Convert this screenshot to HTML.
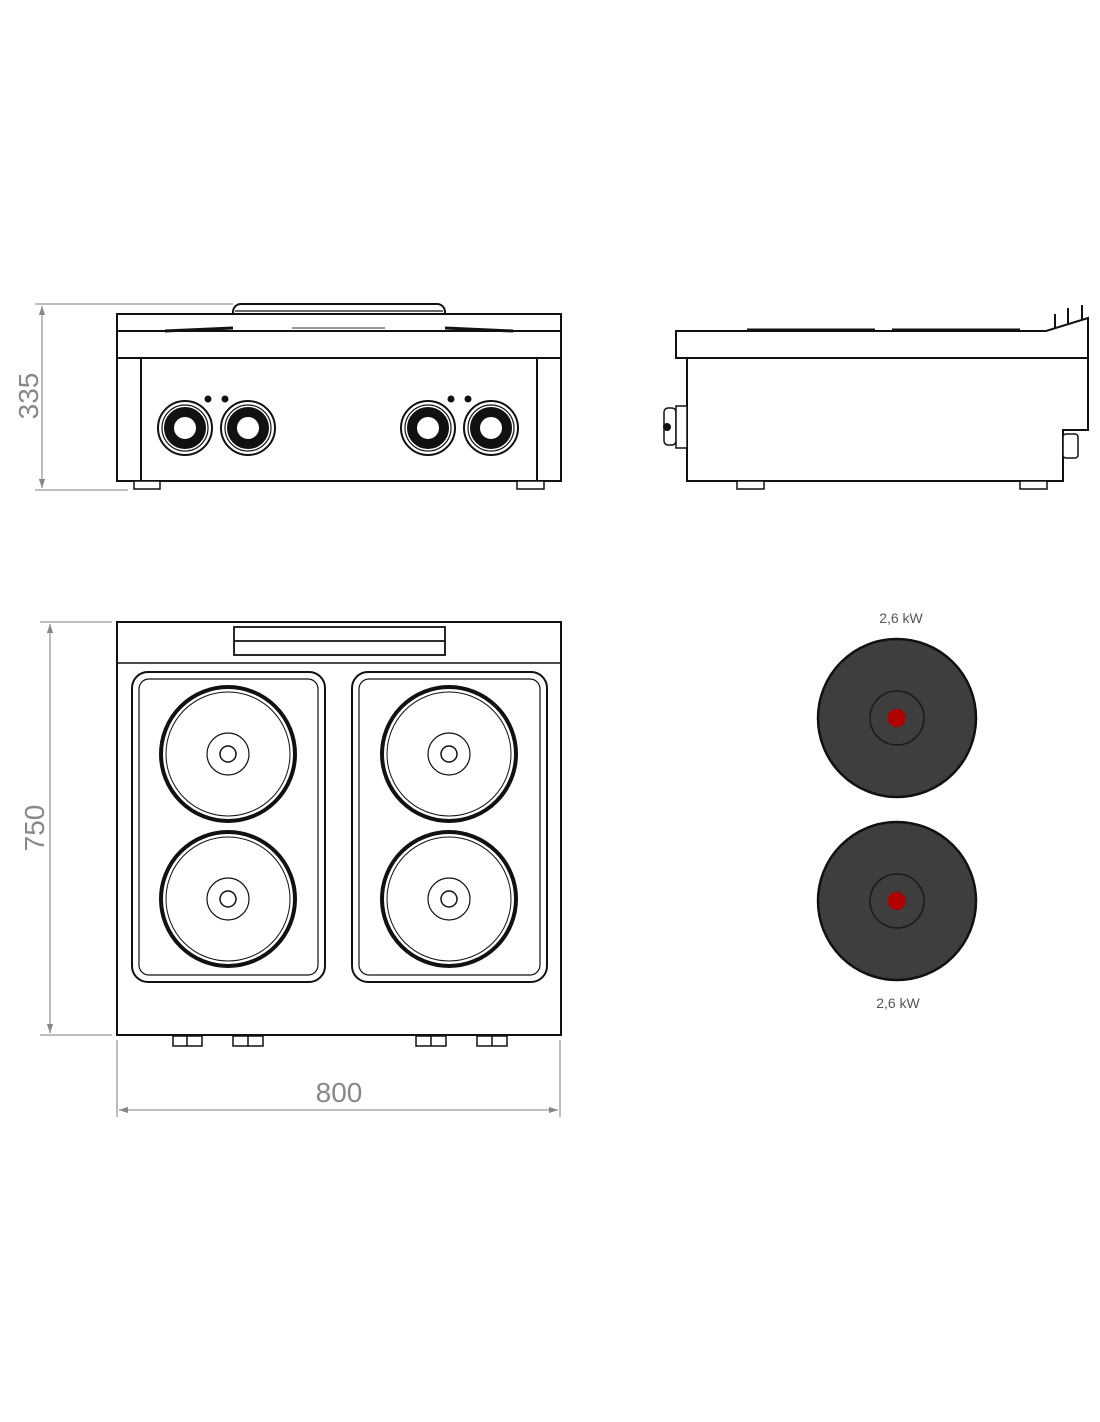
<!DOCTYPE html>
<html><head><meta charset="utf-8"><style>html,body{margin:0;padding:0;background:#fff}svg{display:block}</style></head>
<body>
<svg width="1100" height="1422" viewBox="0 0 1100 1422" xmlns="http://www.w3.org/2000/svg" font-family="Liberation Sans, sans-serif">
<defs>
<marker id="ar" viewBox="0 0 10 10" refX="10" refY="5" markerWidth="16" markerHeight="9" orient="auto-start-reverse" markerUnits="userSpaceOnUse"><path d="M0,1.5 L10,5 L0,8.5 z" fill="#888"/></marker>
</defs>
<g stroke="#999" stroke-width="1.3" fill="none">
<line x1="35" y1="304" x2="233" y2="304"/>
<line x1="35" y1="490" x2="128" y2="490"/>
<line x1="42" y1="306" x2="42" y2="488" marker-start="url(#ar)" marker-end="url(#ar)"/>
<line x1="40" y1="622" x2="112" y2="622"/>
<line x1="40" y1="1035" x2="112" y2="1035"/>
<line x1="50" y1="624" x2="50" y2="1033" marker-start="url(#ar)" marker-end="url(#ar)"/>
<line x1="117" y1="1040" x2="117" y2="1117"/>
<line x1="560" y1="1040" x2="560" y2="1117"/>
<line x1="119" y1="1110" x2="558" y2="1110" marker-start="url(#ar)" marker-end="url(#ar)"/>
</g>
<text x="0" y="0" transform="translate(38,396) rotate(-90)" text-anchor="middle" font-size="28" fill="#888">335</text>
<text x="0" y="0" transform="translate(44,828) rotate(-90)" text-anchor="middle" font-size="28" fill="#888">750</text>
<text x="339" y="1102" text-anchor="middle" font-size="28" fill="#888">800</text>

<g stroke="#111" stroke-width="2" fill="#fff">
<rect x="233" y="304" width="212" height="27" rx="8"/>
<line x1="235" y1="311" x2="443" y2="311" stroke-width="1.3"/>
<rect x="117" y="314" width="444" height="44"/>
<line x1="117" y1="331" x2="561" y2="331"/>
<rect x="117" y="358" width="444" height="123"/>
<line x1="141" y1="358" x2="141" y2="481"/>
<line x1="537" y1="358" x2="537" y2="481"/>
<rect x="134" y="481" width="26" height="8" stroke-width="1.5"/>
<rect x="517" y="481" width="27" height="8" stroke-width="1.5"/>
</g>
<path d="M165,331 L233,328 M445,328 L513,331" stroke="#111" stroke-width="3"/>
<line x1="292" y1="328" x2="385" y2="328" stroke="#999" stroke-width="2"/>
<g>
<circle cx="185" cy="428" r="27" fill="#fff" stroke="#111" stroke-width="2"/>
<circle cx="185" cy="428" r="23" fill="none" stroke="#111" stroke-width="1.2"/>
<circle cx="185" cy="428" r="16" fill="none" stroke="#111" stroke-width="10"/>
<circle cx="248" cy="428" r="27" fill="#fff" stroke="#111" stroke-width="2"/>
<circle cx="248" cy="428" r="23" fill="none" stroke="#111" stroke-width="1.2"/>
<circle cx="248" cy="428" r="16" fill="none" stroke="#111" stroke-width="10"/>
<circle cx="428" cy="428" r="27" fill="#fff" stroke="#111" stroke-width="2"/>
<circle cx="428" cy="428" r="23" fill="none" stroke="#111" stroke-width="1.2"/>
<circle cx="428" cy="428" r="16" fill="none" stroke="#111" stroke-width="10"/>
<circle cx="491" cy="428" r="27" fill="#fff" stroke="#111" stroke-width="2"/>
<circle cx="491" cy="428" r="23" fill="none" stroke="#111" stroke-width="1.2"/>
<circle cx="491" cy="428" r="16" fill="none" stroke="#111" stroke-width="10"/>
<circle cx="208" cy="399" r="3.5" fill="#111"/><circle cx="225" cy="399" r="3.5" fill="#111"/>
<circle cx="451" cy="399" r="3.5" fill="#111"/><circle cx="468" cy="399" r="3.5" fill="#111"/>
</g>

<g stroke="#111" stroke-width="2" fill="#fff">
<path d="M676,331 L1046,331 L1088,318 L1088,430 L1063,430 L1063,481 L687,481 L687,358 L676,358 Z"/>
<line x1="676" y1="358" x2="1088" y2="358"/>
<path d="M1055,328 L1055,314 M1068,324 L1068,308 M1082,320 L1082,305" />
<rect x="737" y="481" width="27" height="8" stroke-width="1.5"/>
<rect x="1020" y="481" width="27" height="8" stroke-width="1.5"/>
<rect x="664" y="408" width="12" height="37" rx="4" stroke-width="1.5"/>
<rect x="676" y="406" width="11" height="42" stroke-width="1.5"/>
<rect x="1063" y="434" width="15" height="24" rx="3" stroke-width="1.5"/>
</g>
<path d="M747,330 L875,330 M892,330 L1020,330" stroke="#111" stroke-width="3"/>
<circle cx="667" cy="427" r="4" fill="#111"/>

<g stroke="#111" stroke-width="2" fill="#fff">
<rect x="117" y="622" width="444" height="413"/>
<line x1="117" y1="663" x2="561" y2="663" stroke-width="1.5"/>
<rect x="234" y="627" width="211" height="28" stroke-width="1.8"/>
<line x1="234" y1="641" x2="445" y2="641" stroke-width="1.8"/>
<rect x="132" y="672" width="193" height="310" rx="16"/>
<rect x="139" y="679" width="179" height="296" rx="10" stroke-width="1.2"/>
<rect x="352" y="672" width="195" height="310" rx="16"/>
<rect x="359" y="679" width="181" height="296" rx="10" stroke-width="1.2"/>
<g stroke-width="1.5">
<rect x="173" y="1036" width="29" height="10"/><line x1="187" y1="1036" x2="187" y2="1046"/>
<rect x="233" y="1036" width="30" height="10"/><line x1="248" y1="1036" x2="248" y2="1046"/>
<rect x="416" y="1036" width="30" height="10"/><line x1="431" y1="1036" x2="431" y2="1046"/>
<rect x="477" y="1036" width="30" height="10"/><line x1="492" y1="1036" x2="492" y2="1046"/>
</g>
</g>
<g fill="none" stroke="#111">
<circle cx="228" cy="754" r="67" stroke-width="4"/><circle cx="228" cy="754" r="62" stroke-width="1"/>
<circle cx="228" cy="754" r="21" stroke-width="1.2"/><circle cx="228" cy="754" r="8" stroke-width="1.5"/>
<circle cx="228" cy="899" r="67" stroke-width="4"/><circle cx="228" cy="899" r="62" stroke-width="1"/>
<circle cx="228" cy="899" r="21" stroke-width="1.2"/><circle cx="228" cy="899" r="8" stroke-width="1.5"/>
<circle cx="449" cy="754" r="67" stroke-width="4"/><circle cx="449" cy="754" r="62" stroke-width="1"/>
<circle cx="449" cy="754" r="21" stroke-width="1.2"/><circle cx="449" cy="754" r="8" stroke-width="1.5"/>
<circle cx="449" cy="899" r="67" stroke-width="4"/><circle cx="449" cy="899" r="62" stroke-width="1"/>
<circle cx="449" cy="899" r="21" stroke-width="1.2"/><circle cx="449" cy="899" r="8" stroke-width="1.5"/>
</g>

<circle cx="897" cy="718" r="79" fill="#3e3e3e" stroke="#111" stroke-width="2.5"/>
<circle cx="897" cy="718" r="27" fill="none" stroke="#1a1a1a" stroke-width="1.5"/>
<circle cx="897" cy="718" r="9" fill="#b00000"/>
<circle cx="897" cy="901" r="79" fill="#3e3e3e" stroke="#111" stroke-width="2.5"/>
<circle cx="897" cy="901" r="27" fill="none" stroke="#1a1a1a" stroke-width="1.5"/>
<circle cx="897" cy="901" r="9" fill="#b00000"/>
<text x="901" y="623" text-anchor="middle" font-size="14" fill="#555">2,6 kW</text>
<text x="898" y="1008" text-anchor="middle" font-size="14" fill="#555">2,6 kW</text>
</svg>
</body></html>
